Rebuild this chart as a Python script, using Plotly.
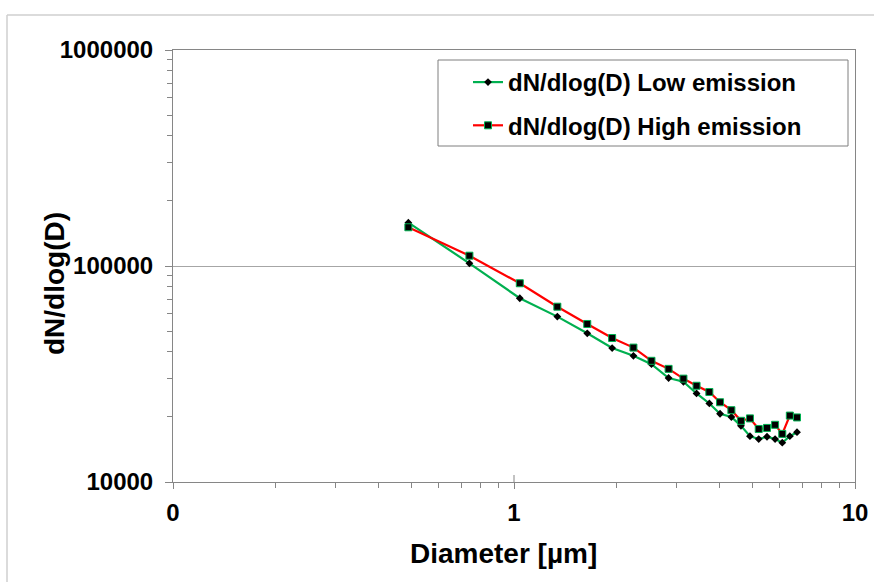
import plotly.graph_objects as go

# ---- data ----
diameter = [0.49, 0.74, 1.04, 1.34, 1.64, 1.94, 2.24, 2.53, 2.84, 3.14, 3.43,
            3.74, 4.02, 4.34, 4.63, 4.92, 5.22, 5.52, 5.83, 6.12, 6.44, 6.76]
low_emission = [158700, 102900, 70900, 58300, 48800, 41700, 38400, 35100, 30300,
                29100, 25700, 23100, 20700, 20000, 18200, 16300, 15800, 16200,
                15800, 15200, 16300, 17000]
high_emission = [151100, 111600, 83200, 64800, 53900, 46400, 41900, 36400, 33400,
                 30100, 27900, 26100, 23400, 21500, 19200, 19700, 17600, 17800,
                 18400, 16700, 20300, 19900]

series_names = ["dN/dlog(D) Low emission", "dN/dlog(D) High emission"]

x_tickvals = [0.1, 1, 10]
x_ticktext = ["0", "1", "10"]
x_minor = [0.2, 0.3, 0.4, 0.5, 0.6, 0.7, 0.8, 0.9, 2, 3, 4, 5, 6, 7, 8, 9]
y_tickvals = [10000, 100000, 1000000]
y_ticktext = ["10000", "100000", "1000000"]
y_minor = [20000, 30000, 40000, 50000, 60000, 70000, 80000, 90000,
           200000, 300000, 400000, 500000, 600000, 700000, 800000, 900000]

x_title = "Diameter [µm]"
y_title = "dN/dlog(D)"

FONT = "Liberation Sans, Arial, sans-serif"
GREEN = "#00B050"
RED = "#FF0000"
AXIS = "#868686"

W, H = 874, 582
ML, MR, MT, MB = 173, 19, 50, 100
PW, PH = W - ML - MR, H - MT - MB


def px_x(p):
    return (p - ML) / PW


def px_y(p):
    return (H - MB - p) / PH


fig = go.Figure()
fig.add_trace(go.Scatter(
    x=diameter, y=low_emission, mode="lines+markers", name=series_names[0],
    legendgroup="a",
    line=dict(color=GREEN, width=2.2),
    marker=dict(symbol="diamond", size=6, color="black", line=dict(width=0)),
))
fig.add_trace(go.Scatter(
    x=diameter, y=high_emission, mode="lines+markers", name=series_names[1],
    legendgroup="b",
    line=dict(color=RED, width=2.2),
    marker=dict(symbol="square", size=7, color="black", line=dict(color=GREEN, width=1)),
))

shapes = []
# outer chart-area frame (top and left edges visible)
shapes.append(dict(type="line", xref="paper", yref="paper",
                   x0=px_x(7), x1=px_x(W), y0=px_y(15), y1=px_y(15),
                   line=dict(color="#cfcfcf", width=1.5)))
shapes.append(dict(type="line", xref="paper", yref="paper",
                   x0=px_x(7), x1=px_x(7), y0=px_y(15), y1=px_y(H),
                   line=dict(color="#cfcfcf", width=1.5)))
# legend frame
shapes.append(dict(type="rect", xref="paper", yref="paper",
                   x0=px_x(438), x1=px_x(848), y0=px_y(146), y1=px_y(60),
                   line=dict(color="#7f7f7f", width=1), fillcolor="white", layer="above"))
# crossing major ticks on the x axis (inner majors)
for v in x_tickvals[1:-1]:
    shapes.append(dict(type="line", xref="x", yref="paper", x0=v, x1=v,
                       y0=0, y1=7 / PH, line=dict(color=AXIS, width=1)))

annotations = [
    dict(text=y_title, xref="paper", yref="paper", x=px_x(54), y=px_y(283),
         textangle=-90, showarrow=False, xanchor="center", yanchor="middle",
         font=dict(family=FONT, size=28, color="black", weight="bold")),
    dict(text=x_title, xref="paper", yref="paper", x=px_x(503), y=px_y(553),
         showarrow=False, xanchor="center", yanchor="middle",
         font=dict(family=FONT, size=28, color="black", weight="bold")),
]

fig.update_layout(
    width=W, height=H,
    margin=dict(l=ML, r=MR, t=MT, b=MB, autoexpand=False),
    paper_bgcolor="white", plot_bgcolor="white",
    font=dict(family=FONT, color="black"),
    showlegend=True,
    legend=dict(x=px_x(468), y=px_y(60), xanchor="left", yanchor="top",
                bgcolor="rgba(0,0,0,0)", borderwidth=0,
                font=dict(family=FONT, size=24, color="black", weight="bold"),
                tracegroupgap=9, itemwidth=30),
    shapes=shapes,
    annotations=annotations,
)

fig.update_xaxes(
    type="log", range=[-1, 1],
    tickmode="array", tickvals=x_tickvals, ticktext=x_ticktext,
    ticks="outside", ticklen=6, tickcolor=AXIS, tickwidth=1,
    showline=True, linecolor=AXIS, linewidth=1, mirror=True,
    showgrid=False, zeroline=False,
    tickfont=dict(family=FONT, size=24, color="black", weight="bold"),
    ticklabelstandoff=3,
    minor=dict(tickmode="array", tickvals=x_minor, ticks="outside", ticklen=5,
               tickcolor=AXIS, tickwidth=1, showgrid=False),
)
fig.update_yaxes(
    type="log", range=[4, 6],
    tickmode="array", tickvals=y_tickvals, ticktext=y_ticktext,
    ticks="outside", ticklen=7, tickcolor=AXIS, tickwidth=1,
    showline=True, linecolor=AXIS, linewidth=1, mirror=True,
    showgrid=True, gridcolor="#a6a6a6", gridwidth=1.3, zeroline=False,
    tickfont=dict(family=FONT, size=24, color="black", weight="bold"),
    ticklabelstandoff=7,
    minor=dict(tickmode="array", tickvals=y_minor, ticks="outside", ticklen=5,
               tickcolor=AXIS, tickwidth=1, showgrid=False),
)

fig.write_html("out.html",
               config={"displayModeBar": False},
               post_script="document.body.style.margin='0px';"
                           "document.body.style.overflow='hidden';")
